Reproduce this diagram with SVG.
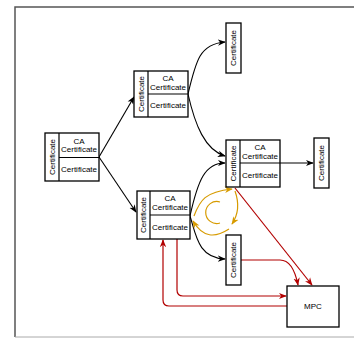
<svg xmlns="http://www.w3.org/2000/svg" width="354" height="338" viewBox="0 0 354 338">
<style>
.box{fill:#fff;stroke:#000;stroke-width:1.3}
.div{stroke:#000;stroke-width:1.2;fill:none}
.t{font-family:"Liberation Sans",Arial,sans-serif;font-size:8px;fill:#000;text-anchor:middle;dominant-baseline:central}
.bk{fill:none;stroke:#000;stroke-width:1.1;marker-end:url(#ab)}
.rd{fill:none;stroke:#b20000;stroke-width:1.2;marker-end:url(#ar)}
.or{fill:none;stroke:#d79b00;stroke-width:1.2;marker-end:url(#ao)}
</style>
<defs>
<marker id="ab" markerUnits="userSpaceOnUse" markerWidth="8" markerHeight="8" viewBox="0 0 10 10" refX="9" refY="5" orient="auto"><path d="M0,1 L10,5 L0,9 L3,5 z" fill="#000"/></marker>
<marker id="ar" markerUnits="userSpaceOnUse" markerWidth="8" markerHeight="8" viewBox="0 0 10 10" refX="9" refY="5" orient="auto"><path d="M0,1 L10,5 L0,9 L3,5 z" fill="#b20000"/></marker>
<marker id="ao" markerUnits="userSpaceOnUse" markerWidth="8" markerHeight="8" viewBox="0 0 10 10" refX="9" refY="5" orient="auto"><path d="M0,1 L10,5 L0,9 L3,5 z" fill="#d79b00"/></marker>
</defs>
<rect width="354" height="338" fill="#fff"/>
<path d="M15 337 V7 H354" fill="none" stroke="#555" stroke-width="1.5"/>
<path d="M15 337 H354" fill="none" stroke="#aaa" stroke-width="1"/>

<g id="connectors">
<path class="bk" d="M99 157 L134 97"/>
<path class="bk" d="M99 157 L136 212"/>
<path class="bk" d="M188 94 C196 60 200 44 225 42"/>
<path class="bk" d="M188 94 C195 125 205 150 225 156"/>
<path class="bk" d="M190 216 C198 180 205 163 225 163"/>
<path class="bk" d="M190 216 C196 235 198 258 225 259"/>
<path class="bk" d="M280 163 L313 163"/>
<path class="or" d="M194 216 C200 200 205 192 232 189"/>
<path class="or" d="M235 191 C240 205 238 215 232 224"/>
<path class="or" d="M229 229 C215 238 203 238 193 221"/>
<path d="M220 202 A11 11 0 1 0 220 223" fill="none" stroke="#d79b00" stroke-width="1.2"/>
<path class="rd" d="M235 188 L312 285"/>
<path class="rd" d="M241 260 L280 260 C290 260 295 270 298 285"/>
<path class="rd" d="M177 239 L177 290 Q177 296 183 296 L286 296"/>
<path class="rd" d="M287 306 L169 306 Q163 306 163 300 L163 240"/>
</g>

<g id="root">
<rect class="box" x="45" y="133" width="54" height="48"/>
<path class="div" d="M59 133 V181 M59 157.5 H99"/>
<text class="t" transform="translate(52,157) rotate(-90)">Certificate</text>
<text class="t" x="79" y="141">CA</text>
<text class="t" x="79" y="149.5">Certificate</text>
<text class="t" x="79" y="169">Certificate</text>
</g>

<g id="ca-top">
<rect class="box" x="134" y="71" width="54" height="46"/>
<path class="div" d="M148 71 V117 M148 94 H188"/>
<text class="t" transform="translate(141,94) rotate(-90)">Certificate</text>
<text class="t" x="168" y="78.5">CA</text>
<text class="t" x="168" y="87">Certificate</text>
<text class="t" x="168" y="105.5">Certificate</text>
</g>

<g id="ca-right">
<rect class="box" x="226" y="140" width="54" height="47"/>
<path class="div" d="M240 140 V187 M240 163 H280"/>
<text class="t" transform="translate(233,163.5) rotate(-90)">Certificate</text>
<text class="t" x="260" y="147.5">CA</text>
<text class="t" x="260" y="156">Certificate</text>
<text class="t" x="260" y="175">Certificate</text>
</g>

<g id="ca-bottom">
<rect class="box" x="137" y="191" width="53" height="48"/>
<path class="div" d="M150 191 V239 M150 215 H190"/>
<text class="t" transform="translate(143.5,215) rotate(-90)">Certificate</text>
<text class="t" x="170" y="198.5">CA</text>
<text class="t" x="170" y="207">Certificate</text>
<text class="t" x="170" y="227">Certificate</text>
</g>

<g id="cert-top">
<rect class="box" x="226" y="23" width="15" height="50"/>
<text class="t" transform="translate(233.5,48) rotate(-90)">Certificate</text>
</g>

<g id="cert-right">
<rect class="box" x="314" y="138" width="15" height="50"/>
<text class="t" transform="translate(321.5,163) rotate(-90)">Certificate</text>
</g>

<g id="cert-lower">
<rect class="box" x="226" y="235" width="15" height="50"/>
<text class="t" transform="translate(233.5,260) rotate(-90)">Certificate</text>
</g>

<g id="mpc">
<rect class="box" x="287" y="286" width="52" height="41"/>
<text class="t" x="313" y="306">MPC</text>
</g>
</svg>
